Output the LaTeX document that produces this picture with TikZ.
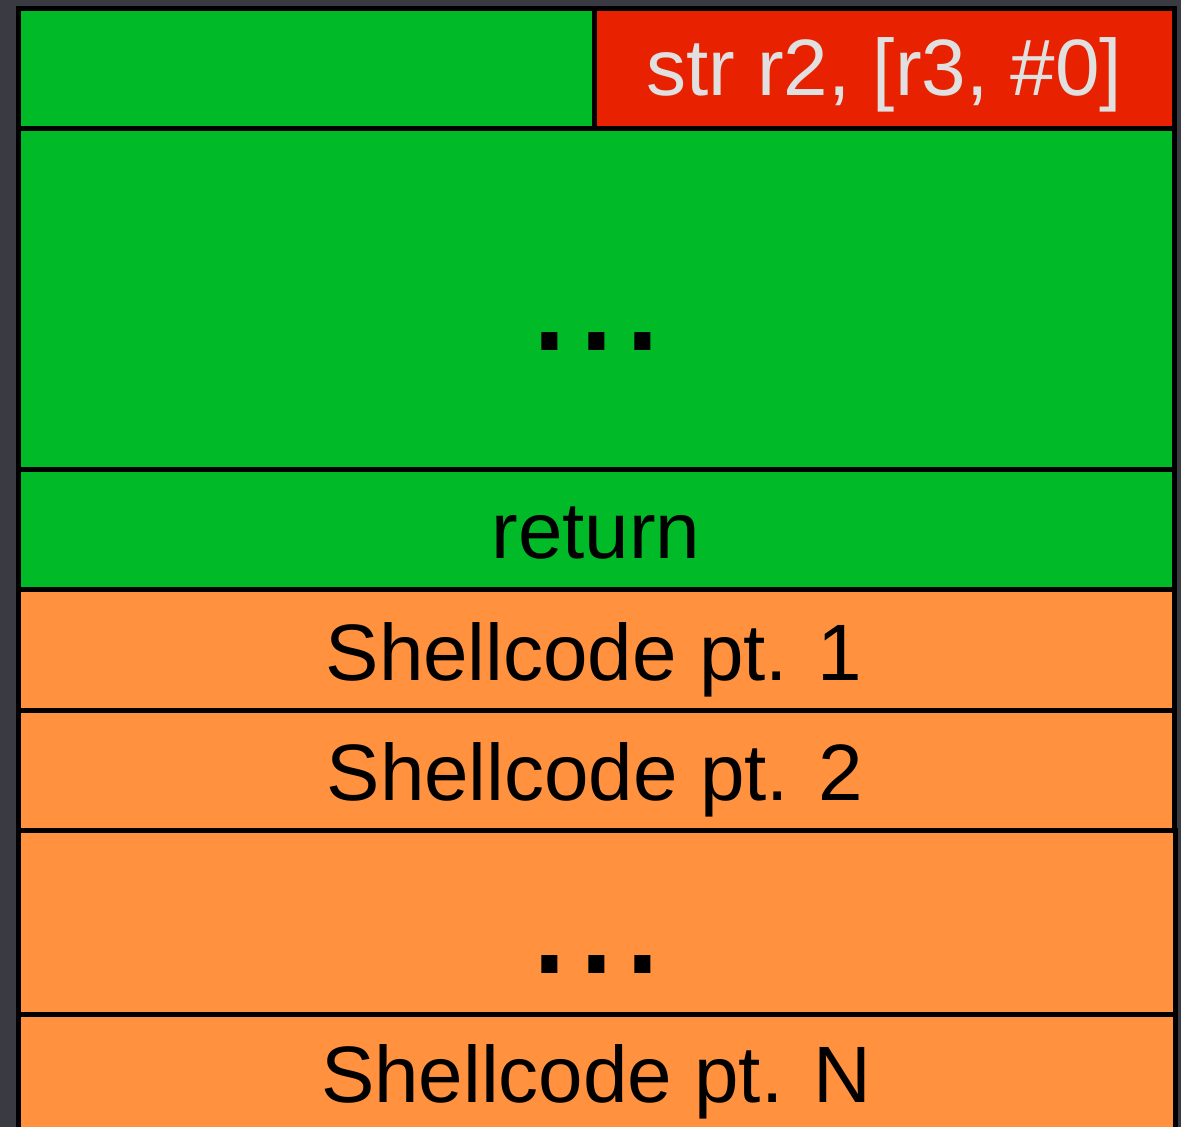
\documentclass[tikz,border=0pt]{standalone}
\usepackage{fontspec}
\setmainfont{Liberation Sans}
\definecolor{bgc}{RGB}{58,58,66}
\definecolor{grn}{RGB}{0,187,39}
\definecolor{redc}{RGB}{232,34,0}
\definecolor{org}{RGB}{255,145,63}
\definecolor{ltxt}{RGB}{224,224,224}
\tikzset{
  cell/.style={line width=5pt, draw=black},
  lbl/.style={anchor=base, inner sep=0pt, font=\fontsize{80}{96}\selectfont},
  dotlbl/.style={anchor=base, inner sep=0pt, font=\fontsize{168}{200}\selectfont}
}
\begin{document}
\begin{tikzpicture}[x=1pt,y=-1pt]
\fill[bgc] (0,0) rectangle (1181,1127);
\useasboundingbox (0,0) rectangle (1181,1127);
\clip (0,0) rectangle (1181,1127);
% cells
\path[cell, fill=grn] (18.5,8.5) rectangle (594.5,128.5);
\path[cell, fill=redc] (594.5,8.5) rectangle (1174,128.5);
\path[cell, fill=grn] (18.5,128.5) rectangle (1174,469.5);
\path[cell, fill=grn] (18.5,469.5) rectangle (1174,589.5);
\path[cell, fill=org] (18.5,589.5) rectangle (1174.5,710);
\path[cell, fill=org] (18.5,710) rectangle (1174.5,830);
\path[cell, fill=org] (18.5,830) rectangle (1175,1014);
\path[cell, fill=org] (18.5,1014) rectangle (1175.5,1160);
% labels
\node[lbl, text=ltxt] (str) at (884,95) {str r2, [r3, \#0]};
\node[dotlbl] (dots1) at (596.5,350) {...};
\node[lbl] (ret) at (596,558) {return};
\node[lbl] (sc1) at (594,680) {Shellcode pt. 1};
\node[lbl] (sc2) at (595,800) {Shellcode pt. 2};
\node[dotlbl] (dots2) at (596.5,973) {...};
\node[lbl] (scn) at (596,1102) {Shellcode pt. N};
\end{tikzpicture}
\end{document}
